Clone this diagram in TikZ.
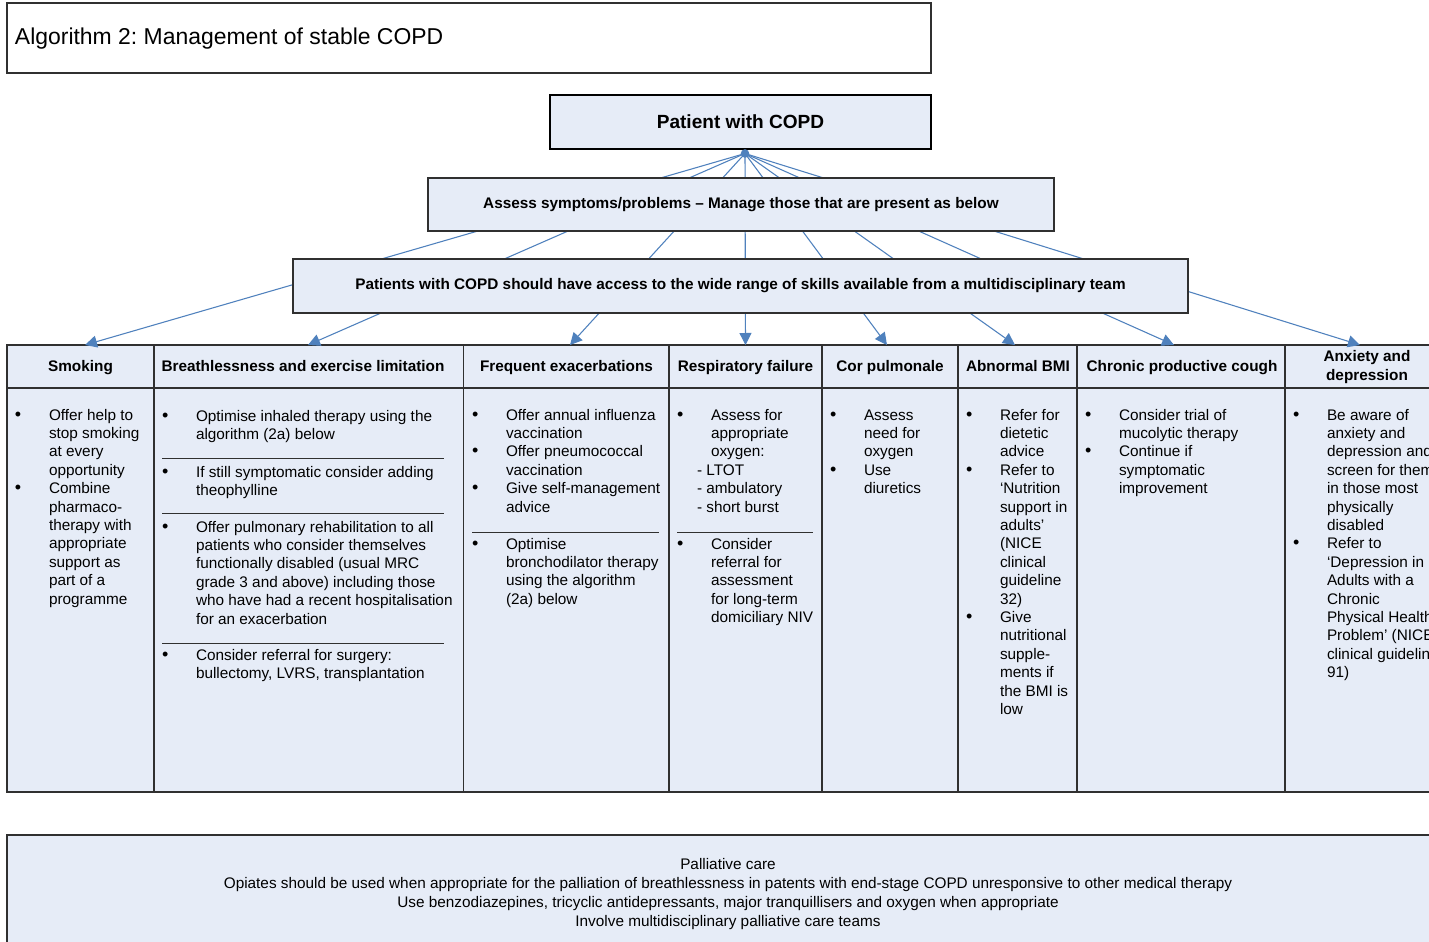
\documentclass[tikz,border=0pt]{standalone}
\usepackage{fontspec}
\setmainfont{Liberation Sans}
\usetikzlibrary{arrows.meta}
\frenchspacing
\definecolor{boxfill}{HTML}{E6ECF7}
\definecolor{connc}{HTML}{4F81BD}
\definecolor{framec}{HTML}{303030}
\newcommand\bodyfont{\fontsize{11.5}{13.8}\selectfont}
\newcommand\itm[3]{%
  \node[txt] at (#1+8,#2+1) {\fontsize{13.5}{13.8}\selectfont •};
  \node[txt] at (#1+42,#2+1) {\parbox[t]{300pt}{\bodyfont\raggedright #3}};}
\tikzset{
  txt/.style={anchor=base west, inner sep=0pt, outer sep=0pt},
  hdr/.style={inner sep=0pt, font=\bfseries\bodyfont, align=center, anchor=base},
  frm/.style={draw=framec, line width=0.9pt},
  box/.style={draw=framec, line width=0.9pt, fill=boxfill, inner sep=0pt, font=\bfseries\bodyfont},
  sepline/.style={draw=framec, line width=0.6pt},
  connline/.style={draw=connc, line width=0.8pt, -{Triangle[length=9pt,width=9pt]}},
}
\begin{document}
\begin{tikzpicture}[x=0.75pt, y=-0.75pt]
\useasboundingbox (0,0) rectangle (1429,942);
\clip (0,0) rectangle (1429,942);
\fill[white] (0,0) rectangle (1429,942);

% title
\draw[frm, fill=white] (7,3) rectangle (931,73);
\node[txt, font=\fontsize{17.2}{20}\selectfont] (title) at (15,45) {Algorithm 2: Management of stable COPD};

% table
\fill[boxfill] (7,345) rectangle (1449,792);
\draw[frm] (7,345) rectangle (1449,792);
\draw[frm] (7,388) -- (1449,388);
\foreach \x in {154,463.5,669,822,958,1077,1285} \draw[frm] (\x,345) -- (\x,792);

% headers
\node[hdr] (h1) at (80.5,371.5) {Smoking};
\node[hdr] (h2) at (303,371.5) {Breathlessness and exercise limitation};
\node[hdr] (h3) at (566.5,371.5) {Frequent exacerbations};
\node[hdr] (h4) at (745.5,371.5) {Respiratory failure};
\node[hdr] (h5) at (890,371.5) {Cor pulmonale};
\node[hdr] (h6) at (1018,371.5) {Abnormal BMI};
\node[hdr] (h7) at (1182,371.5) {Chronic productive cough};
\node[hdr, anchor=center] (h8) at (1367,367) {Anxiety and\\depression};

% Smoking
\itm{7}{419}{Offer help to\\stop smoking\\at every\\opportunity}
\itm{7}{492.6}{Combine\\pharmaco-\\therapy with\\appropriate\\support as\\part of a\\programme}

% Breathlessness
\itm{154}{420}{Optimise inhaled therapy using the\\algorithm (2a) below}
\draw[sepline] (162,458) -- (444,458);
\itm{154}{476}{If still symptomatic consider adding\\theophylline}
\draw[sepline] (162,513) -- (444,513);
\itm{154}{531}{Offer pulmonary rehabilitation to all\\patients who consider themselves\\functionally disabled (usual MRC\\grade 3 and above) including those\\who have had a recent hospitalisation\\for an exacerbation}
\draw[sepline] (162,643) -- (444,643);
\itm{154}{659.5}{Consider referral for surgery:\\bullectomy, LVRS, transplantation}

% Frequent exacerbations
\itm{464}{419}{Offer annual influenza\\vaccination}
\itm{464}{455.8}{Offer pneumococcal\\vaccination}
\itm{464}{492.6}{Give self-management\\advice}
\draw[sepline] (472,532) -- (659,532);
\itm{464}{548}{Optimise\\bronchodilator therapy\\using the algorithm\\(2a) below}

% Respiratory failure
\itm{669}{419}{Assess for\\appropriate\\oxygen:}
\node[txt] (dashes) at (697,475.2) {\parbox[t]{200pt}{\bodyfont\raggedright - LTOT\\- ambulatory\\- short burst}};
\draw[sepline] (677,532) -- (813,532);
\itm{669}{548}{Consider\\referral for\\assessment\\for long-term\\domiciliary NIV}

% Cor pulmonale
\itm{822}{419}{Assess\\need for\\oxygen}
\itm{822}{474.2}{Use\\diuretics}

% Abnormal BMI
\itm{958}{419}{Refer for\\dietetic\\advice}
\itm{958}{474.2}{Refer to\\‘Nutrition\\support in\\adults’\\(NICE\\clinical\\guideline\\32)}
\itm{958}{621.4}{Give\\nutritional\\supple-\\ments if\\the BMI is\\low}

% Chronic productive cough
\itm{1077}{419}{Consider trial of\\mucolytic therapy}
\itm{1077}{455.8}{Continue if\\symptomatic\\improvement}

% Anxiety and depression
\itm{1285}{419}{Be aware of\\anxiety and\\depression and\\screen for them\\in those most\\physically\\disabled}
\itm{1285}{547.8}{Refer to\\‘Depression in\\Adults with a\\Chronic\\Physical Health\\Problem’ (NICE\\clinical guideline\\91)}

% connectors
\coordinate (hub) at (745,153.5);
\coordinate (a1) at (85,345);
\coordinate (a2) at (308,345);
\coordinate (a3) at (570,345);
\coordinate (a4) at (745.5,345);
\coordinate (a5) at (887,345);
\coordinate (a6) at (1015,345);
\coordinate (a7) at (1174,345);
\coordinate (a8) at (1360,345);
\foreach \t in {a1,a2,a3,a4,a5,a6,a7,a8} \draw[connline] (hub) -- (\t);

% boxes
\node[box, minimum width=381*0.75pt, minimum height=54*0.75pt, font=\bfseries\fontsize{14.3}{17}\selectfont, line width=1.1pt, draw=black] (patient) at (740.5,122) {Patient with COPD};
\node[box, minimum width=626*0.75pt, minimum height=53*0.75pt] (assess) at (741,204.5) {Assess symptoms/problems – Manage those that are present as below};
\node[box, minimum width=895*0.75pt, minimum height=54*0.75pt] (mdt) at (740.5,286) {Patients with COPD should have access to the wide range of skills available from a multidisciplinary team};
\fill[connc] (hub) circle[radius=3.2pt];

% palliative care
\draw[frm, fill=boxfill] (7,835) rectangle (1449,960);
\node[anchor=base, inner sep=0pt] (pall) at (728,869) {\parbox[t]{1000pt}{\centering\fontsize{11.5}{14.25}\selectfont
Palliative care\\
Opiates should be used when appropriate for the palliation of breathlessness in patents with end-stage COPD unresponsive to other medical therapy\\
Use benzodiazepines, tricyclic antidepressants, major tranquillisers and oxygen when appropriate\\
Involve multidisciplinary palliative care teams}};
\end{tikzpicture}
\end{document}
